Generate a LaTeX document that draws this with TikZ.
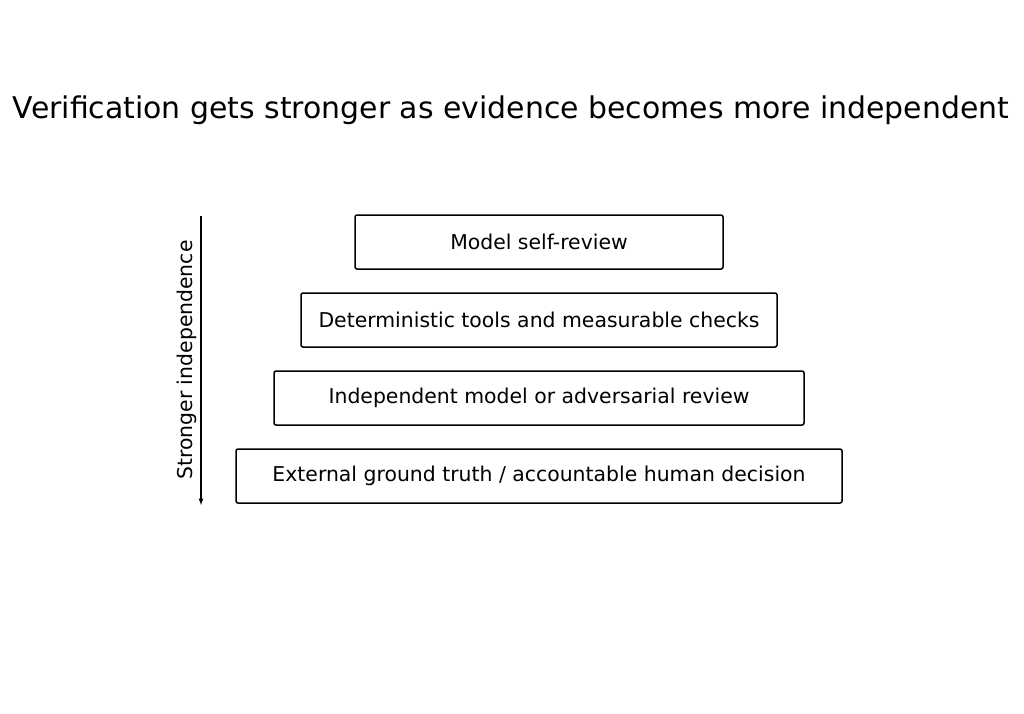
\documentclass[tikz,border=0pt]{standalone}
\usepackage{fontspec}
\setmainfont{DejaVu Sans}
\usetikzlibrary{positioning}
\begin{document}
\begin{tikzpicture}[x=1pt,y=-1pt,thick,
                    tier/.style={draw,rounded corners=2pt,line width=1.5pt,minimum height=54pt,inner sep=0pt,font=\fontsize{20.4}{24}\selectfont}]
  \useasboundingbox (0,0) rectangle (1024,713);

  \node (title) at (511,110) {\fontsize{29.9}{34}\selectfont Verification gets stronger as evidence becomes more independent};

  \node[tier,minimum width=368pt] (self) at (539,242) {Model self-review};
  \node[tier,minimum width=476pt] (tools) at (539,320) {Deterministic tools and measurable checks};
  \node[tier,minimum width=530pt] (indep) at (539,398) {Independent model or adversarial review};
  \node[tier,minimum width=606pt] (truth) at (539,476) {External ground truth / accountable human decision};

  \coordinate (top) at (201,216);
  \coordinate (bot) at (201,505);
  \draw[-latex,line width=1.2pt] (top) -- (bot);
  \node[rotate=90,font=\fontsize{20.4}{24}\selectfont] (axis) at (187,360) {Stronger independence};
\end{tikzpicture}
\end{document}
